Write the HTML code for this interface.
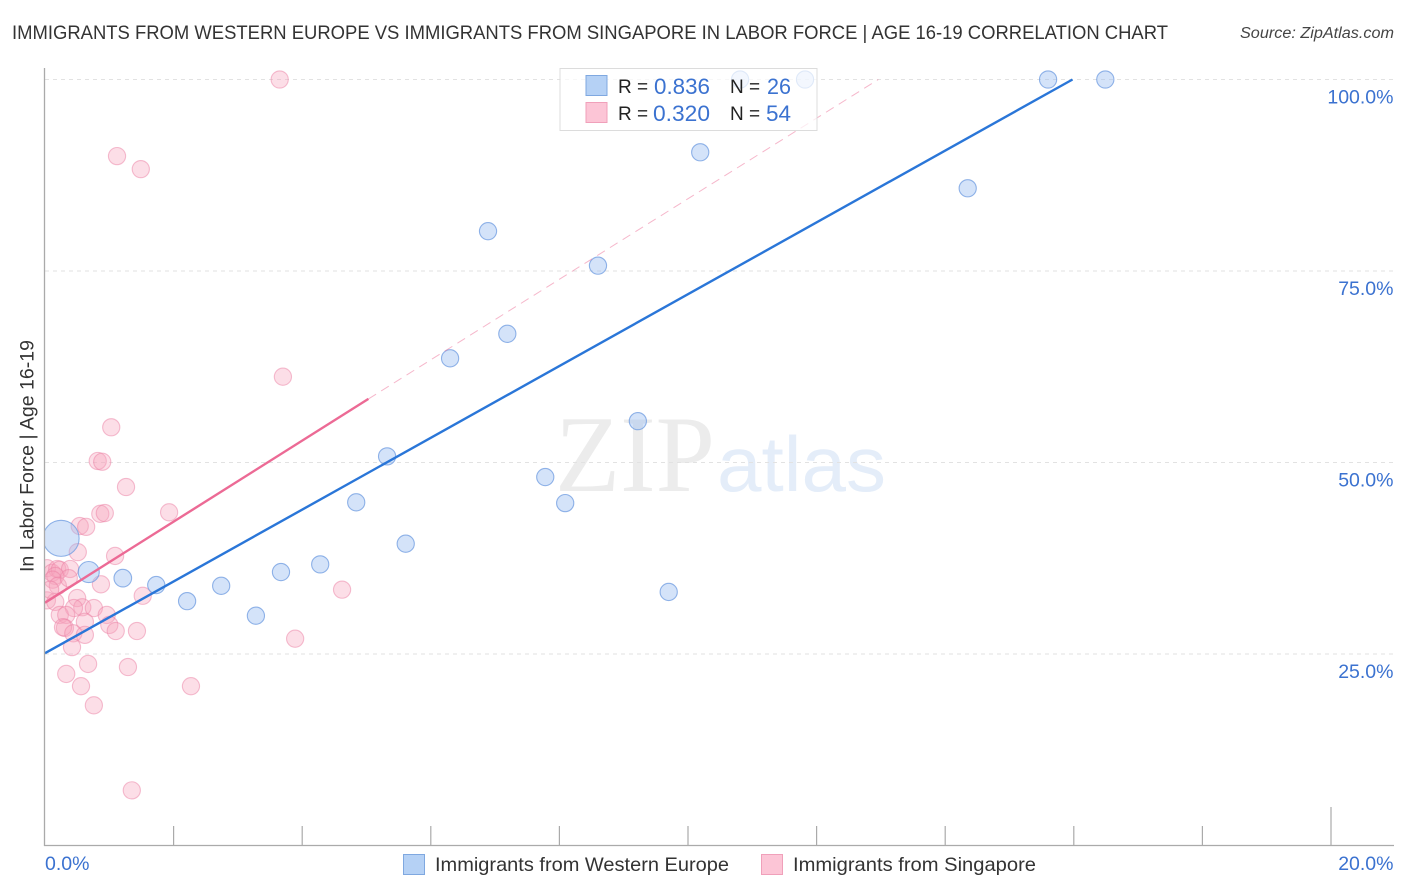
<!DOCTYPE html>
<html lang="en">
<head>
<meta charset="utf-8">
<title>Immigrants from Western Europe vs Immigrants from Singapore in Labor Force | Age 16-19 Correlation Chart</title>
<style>
html,body{margin:0;padding:0;background:#fff;width:1406px;height:892px;overflow:hidden}
svg{display:block;font-family:"Liberation Sans",sans-serif}
</style>
</head>
<body>
<svg id="chart" xmlns="http://www.w3.org/2000/svg" width="1406" height="892" viewBox="0 0 1406 892">
  <defs>
    <clipPath id="plot-clip"><rect x="45" y="60" width="1349" height="785.5"/></clipPath>
  </defs>
  <text x="12" y="39" font-size="19.5" fill="#333" textLength="1156" lengthAdjust="spacingAndGlyphs">IMMIGRANTS FROM WESTERN EUROPE VS IMMIGRANTS FROM SINGAPORE IN LABOR FORCE | AGE 16-19 CORRELATION CHART</text>
  <text x="1394" y="38" font-size="15.5" font-style="italic" fill="#444" text-anchor="end" textLength="154" lengthAdjust="spacingAndGlyphs">Source: ZipAtlas.com</text>

  <g>
    <text x="555" y="491" font-family="'Liberation Serif',serif" font-size="109" fill="#ececec" textLength="160" lengthAdjust="spacingAndGlyphs">ZIP</text>
    <text x="717" y="491" font-size="78" fill="#e4edf9" textLength="169" lengthAdjust="spacingAndGlyphs">atlas</text>
  </g>

  <g id="grid"></g>
  <g id="points" clip-path="url(#plot-clip)"></g>
  <g id="trends"></g>
  <g id="axes"></g>
  <g id="ticklabels"></g>

  <text transform="translate(33.5,572) rotate(-90)" font-size="19.5" fill="#333" textLength="232" lengthAdjust="spacingAndGlyphs">In Labor Force | Age 16-19</text>

  <g>
    <rect x="560" y="68.5" width="257" height="62" fill="#fff" fill-opacity="0.72" stroke="#dcdcdc" stroke-width="1"/>
    <rect x="586" y="75.5" width="21" height="20" fill="#b5d1f5" stroke="#7fa8e0"/>
    <rect x="586" y="102.5" width="21" height="20" fill="#fcc5d6" stroke="#f0a0ba"/>
    <text x="618" y="93" font-size="19" fill="#222">R =</text>
    <text x="654" y="94" font-size="22" fill="#3b72d0" textLength="56" lengthAdjust="spacingAndGlyphs">0.836</text>
    <text x="730" y="93" font-size="19" fill="#222">N =</text>
    <text x="767" y="94" font-size="22" fill="#3b72d0" textLength="24" lengthAdjust="spacingAndGlyphs">26</text>
    <text x="618" y="120" font-size="19" fill="#222">R =</text>
    <text x="653" y="121" font-size="22" fill="#3b72d0" textLength="57" lengthAdjust="spacingAndGlyphs">0.320</text>
    <text x="730" y="120" font-size="19" fill="#222">N =</text>
    <text x="766" y="121" font-size="22" fill="#3b72d0" textLength="25" lengthAdjust="spacingAndGlyphs">54</text>
  </g>

  <g>
    <rect x="403.5" y="854.5" width="21" height="20" fill="#b5d1f5" stroke="#7fa8e0"/>
    <text x="435" y="871" font-size="19.5" fill="#333" textLength="294" lengthAdjust="spacingAndGlyphs">Immigrants from Western Europe</text>
    <rect x="761.5" y="854.5" width="21" height="20" fill="#fcc5d6" stroke="#f0a0ba"/>
    <text x="793" y="871" font-size="19.5" fill="#333" textLength="243" lengthAdjust="spacingAndGlyphs">Immigrants from Singapore</text>
  </g>
</svg>
<script>
const europeX = [0.25,0.68,1.21,1.73,2.21,2.74,3.28,3.67,4.28,4.84,5.32,5.61,6.30,6.89,7.19,7.78,8.09,8.60,9.22,9.70,10.19,10.81,11.82,14.35,15.60,16.49];
const europeY = [40.1,35.7,34.9,34.0,31.9,33.9,30.0,35.7,36.7,44.8,50.8,39.4,63.6,80.2,66.8,48.1,44.7,75.7,55.4,33.1,90.5,100,100,85.8,100,100];
const europeWeight = [4.4,1.5,1.05,1,1,1,1,1,1,1,1,1,1,1,1,1,1,1,1,1,1,1,1,1,1,1];
const singaporeX = [3.65,1.12,1.49,3.70,1.03,0.82,0.89,1.26,1.93,0.86,0.93,0.54,0.64,0.51,1.09,0.03,0.11,0.19,0.23,0.39,0.16,0.12,0.20,0.37,0.87,1.52,0.50,0.03,0.16,0.58,0.45,0.76,0.23,0.33,0.96,0.62,0.31,0.28,1.00,1.10,1.43,0.44,0.62,0.42,0.67,1.29,0.33,0.56,2.27,0.76,1.35,3.89,4.62,0.08];
const singaporeY = [100,90,88.3,61.2,54.6,50.2,50.1,46.8,43.5,43.3,43.4,41.7,41.6,38.3,37.8,36.2,35.6,36.1,36,36.1,35.2,34.7,33.9,34.9,34.1,32.6,32.3,32.0,31.8,31.1,31,31,30.1,30.1,30.1,29.2,28.4,28.5,28.8,28,28,27.7,27.5,25.9,23.7,23.3,22.4,20.8,20.8,18.3,7.2,27,33.4,33.4];
const europeTrendX = [0,15.98];
const europeTrendY = [25.1,100];
const singaporeSolidX = [0,5.03];
const singaporeSolidY = [31.7,58.3];
const singaporeDashX = [5.03,12.96];
const singaporeDashY = [58.3,100];
const yTicks = [25,50,75,100];
const yTickLabels = ["25.0%","50.0%","75.0%","100.0%"];
const xTicks = [2,4,6,8,10,12,14,16,18,20];
const xEndLabels = ["0.0%","20.0%"];

const NS = "http://www.w3.org/2000/svg";
function sx(v){ return 45 + v * 64.3; }
function sy(v){ return 845.5 - v * 7.66; }
function make(parent, tag, attrs){
  const el = document.createElementNS(NS, tag);
  for (const k in attrs) el.setAttribute(k, attrs[k]);
  parent.appendChild(el);
  return el;
}
const grid = document.getElementById('grid');
const axes = document.getElementById('axes');
const labels = document.getElementById('ticklabels');
const points = document.getElementById('points');
const trends = document.getElementById('trends');

yTicks.forEach(function(t, i){
  const g = make(grid, 'line', {x1:45, x2:1394, y1:sy(t), y2:sy(t), stroke:'#e2e2e2', 'stroke-width':1, 'stroke-dasharray':'4 4'});
  
  
  const l = make(labels, 'text', {x:1393.5, y:sy(t) + 24, 'font-size':19.5, fill:'#3b72d0', 'text-anchor':'end'});
  l.textContent = yTickLabels[i];
  
  
});

const axisY = make(axes, 'line', {x1:44.5, x2:44.5, y1:68, y2:846, stroke:'#aaa', 'stroke-width':1.3});


const axisX = make(axes, 'line', {x1:44, x2:1394, y1:845.5, y2:845.5, stroke:'#aaa', 'stroke-width':1.3});


xTicks.forEach(function(t, i){
  const top = i === xTicks.length - 1 ? 807 : 826;
  const tick = make(axes, 'line', {x1:sx(t), x2:sx(t), y1:top, y2:845.5, stroke:'#aaa', 'stroke-width':1.2});
  
  
});

const x0 = make(labels, 'text', {x:45, y:870, 'font-size':19.5, fill:'#3b72d0'});
x0.textContent = xEndLabels[0];


const x1 = make(labels, 'text', {x:1393.5, y:870, 'font-size':19.5, fill:'#3b72d0', 'text-anchor':'end'});
x1.textContent = xEndLabels[1];



singaporeX.forEach(function(v, i){
  const c = make(points, 'circle', {cx:sx(v), cy:sy(singaporeY[i]), r:8.6, fill:'#f7a3bd', 'fill-opacity':0.36, stroke:'#ec7fa3', 'stroke-opacity':0.5, 'stroke-width':1.1});
  
  
});
europeX.forEach(function(v, i){
  const c = make(points, 'circle', {cx:sx(v), cy:sy(europeY[i]), r:8.6 * Math.sqrt(europeWeight[i]), fill:'#98bdf0', 'fill-opacity':0.42, stroke:'#6d9be0', 'stroke-opacity':0.75, 'stroke-width':1.1});
  
  
});

const dash = make(trends, 'line', {x1:sx(singaporeDashX[0]), y1:sy(singaporeDashY[0]), x2:sx(singaporeDashX[1]), y2:sy(singaporeDashY[1]), stroke:'#ee6f98', 'stroke-opacity':0.5, 'stroke-width':1, 'stroke-dasharray':'9 6'});


const pink = make(trends, 'line', {x1:sx(singaporeSolidX[0]), y1:sy(singaporeSolidY[0]), x2:sx(singaporeSolidX[1]), y2:sy(singaporeSolidY[1]), stroke:'#ec6a95', 'stroke-width':2.4});


const blue = make(trends, 'line', {x1:sx(europeTrendX[0]), y1:sy(europeTrendY[0]), x2:sx(europeTrendX[1]), y2:sy(europeTrendY[1]), stroke:'#2a76d8', 'stroke-width':2.4});


</script>
</body>
</html>
